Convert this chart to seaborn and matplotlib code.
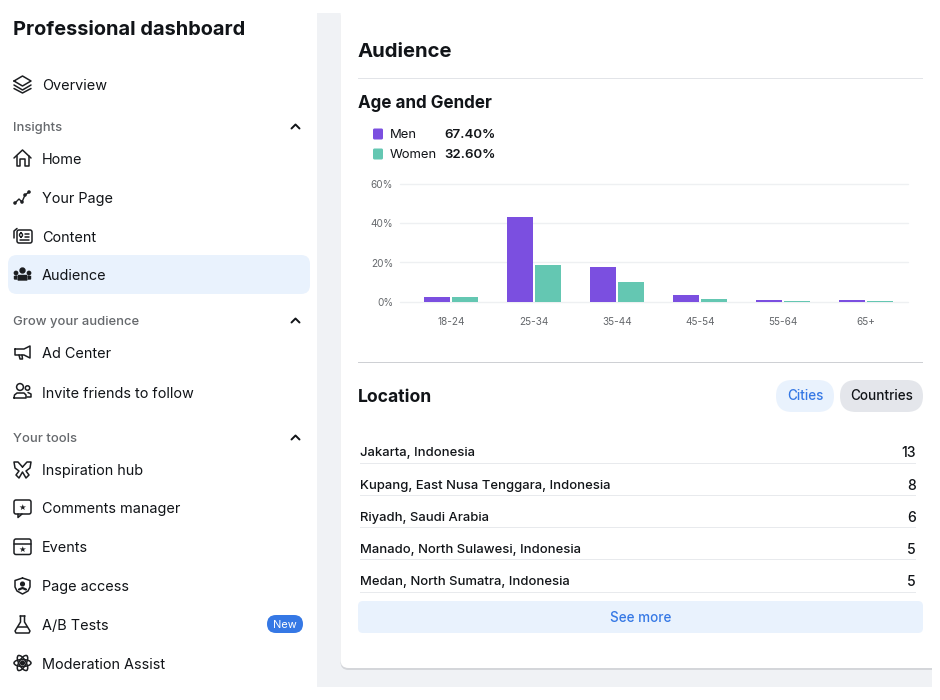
import matplotlib
matplotlib.use("Agg")
import matplotlib.pyplot as plt
from matplotlib.patches import FancyBboxPatch, Rectangle, Circle, Polygon, Ellipse
from matplotlib.transforms import ScaledTranslation
import pandas as pd
import seaborn as sns

age_groups = ["18-24", "25-34", "35-44", "45-54", "55-64", "65+"]
men_values = [2.5, 43.3, 17.4, 3.2, 0.8, 0.6]
women_values = [2.2, 18.9, 10.2, 1.5, 0.5, 0.5]
series_names = ["Men", "Women"]
series_totals = ["67.40%", "32.60%"]
y_ticks = [0, 20, 40, 60]
cities = ["Jakarta, Indonesia", "Kupang, East Nusa Tenggara, Indonesia", "Riyadh, Saudi Arabia",
          "Manado, North Sulawesi, Indonesia", "Medan, North Sumatra, Indonesia"]
city_counts = [13, 8, 6, 5, 5]
nav_items = ["Overview", "Home", "Your Page", "Content", "Audience", "Ad Center", "Invite friends to follow",
             "Inspiration hub", "Comments manager", "Events", "Page access", "A/B Tests", "Moderation Assist"]
nav_sections = ["Insights", "Grow your audience", "Your tools"]

W, H = 940, 700
sns.set_theme(style="white")
plt.rcParams["font.family"] = ["Inter", "DejaVu Sans"]
plt.rcParams["patch.edgecolor"] = "none"
PURPLE, TEAL = "#7B4FE0", "#64C7B2"
INK, GREY, BLUE, PALE = "#111418", "#65686C", "#3578E5", "#E9F2FD"

fig = plt.figure(figsize=(W / 100, H / 100), dpi=100, facecolor="white")
ui = fig.add_axes([0, 0, 1, 1], zorder=0)
ui.set_xlim(0, W); ui.set_ylim(H, 0); ui.axis("off")

def px(s):
    return s * 0.72

def box(x, y, w, h, r, color, z=1, **kw):
    ui.add_patch(FancyBboxPatch((x + r, y + r), w - 2 * r, h - 2 * r, boxstyle=f"round,pad={r}",
                                fc=color, ec="none", zorder=z, **kw))

def rule(x, y, w, color, h=1):
    ui.add_patch(Rectangle((x, y), w, h, fc=color, ec="none", zorder=4))

def text(x, y, s, size=15, color=INK, weight="normal", ha="left"):
    ui.text(x, y, s, fontsize=px(size), color=color, fontweight=weight, ha=ha, va="center_baseline", zorder=5)

# page background and card
ui.add_patch(Rectangle((317, 13), 615, 674, fc="#F0F2F5", ec="none", zorder=0))
box(340.5, 9, 620, 661, 8, "#D4D6DA", z=1)
box(340.5, 7, 620, 661, 8, "white", z=1)
ui.add_patch(Rectangle((932, 0), 8, H, fc="white", ec="none", zorder=3))
ui.add_patch(Rectangle((317, 0), 615, 13, fc="white", ec="none", zorder=3))

# sidebar
text(13, 28, "Professional dashboard", size=20, weight="bold")
nav_y = [84, 158, 197, 236, 275, 353, 392, 469, 508, 547, 586, 624, 663.5]
box(8, 255, 302, 39, 9, PALE)
for label, y in zip(nav_items, nav_y):
    text(42, y, label, size=14.45, color=INK)
for label, y in zip(nav_sections, [126, 320, 437]):
    text(13, y, label, size=13, color=GREY, weight="medium")
    ui.plot([291.5, 295.5, 299.5], [y + 2.5, y - 1.5, y + 2.5], color=INK, lw=1.4, zorder=5)
box(267, 615, 36, 18, 9, BLUE)
text(285, 624, "New", size=11, color="white", ha="center")

ICON = "#1C1E21"

def stroke(xs, ys, lw=1.1):
    ui.plot(xs, ys, color=ICON, lw=lw, solid_joinstyle="round", solid_capstyle="round", zorder=5)

def rect(x, y, w, h, lw=1.1):
    ui.add_patch(FancyBboxPatch((x + 2, y + 2), w - 4, h - 4, boxstyle="round,pad=2", fc="none",
                                ec=ICON, lw=lw, zorder=5))

def ring(x, y, r, fill=False, lw=1.1):
    ui.add_patch(Circle((x, y), r, fc=ICON if fill else "none", ec=ICON, lw=lw, zorder=5))

def star(x, y):
    ui.text(x, y, "★", fontsize=6, ha="center", va="center", color=ICON, zorder=5, family="DejaVu Sans")

# Overview
stroke([14, 22.5, 31, 22.5, 14], [81, 76, 81, 86, 81]); stroke([14, 22.5, 31], [85, 90, 85]); stroke([14, 22.5, 31], [88.5, 93, 88.5])
# Home
stroke([14, 22.5, 31], [158, 150, 158]); stroke([16.5, 16.5, 20, 20, 25, 25, 28.5, 28.5], [156, 166, 166, 159, 159, 166, 166, 156])
# Your Page
stroke([15, 19, 22, 25, 29], [203, 199, 202, 195, 192], 1)
for a, b in [(15, 203), (22, 202), (25, 195), (29, 192)]:
    ring(a, b, 1)
# Content
rect(17, 230, 15, 13); stroke([14, 14, 17], [238, 231, 228.5]); stroke([24.5, 29], [234, 234]); stroke([24.5, 29], [237, 237]); stroke([20, 29], [240, 240]); rect(19.5, 233, 3, 4, 1)
# Audience
ring(22.5, 270.5, 2.4, True); ring(16, 273, 1.6, True); ring(29, 273, 1.6, True)
ui.add_patch(Polygon([(18, 280), (18.5, 275.5), (26.5, 275.5), (27, 280)], fc=ICON, ec=ICON, lw=1, zorder=5))
ui.add_patch(Polygon([(14.5, 279), (14.5, 276.5), (17, 276), (16.5, 279)], fc=ICON, ec=ICON, lw=1, zorder=5))
ui.add_patch(Polygon([(30.5, 279), (30.5, 276.5), (28, 276), (28.5, 279)], fc=ICON, ec=ICON, lw=1, zorder=5))
# Ad Center
stroke([15, 24, 30, 30, 24, 15, 15], [349, 349, 346, 358, 355, 355, 349]); stroke([19, 20, 22.5, 22], [355, 359, 359, 355])
# Invite
ring(20, 387, 3.4); stroke([14, 14.5, 17, 24, 26, 26, 14], [398, 395, 393, 393, 395, 398, 398]); ring(27.5, 388, 2.2); stroke([28, 31, 31, 27], [392.5, 394, 397, 397])
# Inspiration (butterfly)
stroke([22.5, 18, 14, 15, 19, 16, 19, 22.5, 26, 29, 26, 30, 31, 27, 22.5], [467, 462, 462, 468, 471, 475, 478, 472, 478, 475, 471, 468, 462, 462, 467])
# Comments
rect(14, 500, 17, 14); stroke([18, 18, 22], [514, 517.5, 514]); star(22.5, 507)
# Events
rect(14, 539, 17, 15.5); stroke([14, 31], [544, 544]); star(22.5, 549.5)
# Page access
stroke([22.5, 15, 15, 17, 22.5, 28, 30, 30, 22.5], [578, 580.5, 587, 591, 594, 591, 587, 580.5, 578]); ring(22.5, 584, 1.8, True); stroke([19, 22.5, 26], [589.5, 588, 589.5], 1.6)
# A/B Tests
stroke([20, 25], [616, 616]); stroke([20.5, 20.5, 15, 16, 29, 30, 24.5, 24.5], [616, 622, 631, 633, 633, 631, 622, 616]); stroke([18, 27], [627, 627])
# Moderation
ring(22.5, 663, 1.8, True)
for a in (0, 60, 120):
    ui.add_patch(Ellipse((22.5, 663), 17, 7, angle=a, fc="none", ec=ICON, lw=1.1, zorder=5))

# audience header and rules
text(358, 50, "Audience", size=20.3, weight="bold")
rule(358, 77.5, 565, "#E2E4E8")
text(358, 102, "Age and Gender", size=17, weight="bold")
rule(358, 362, 565, "#CED0D4")

# legend
for name, total, color, y in zip(series_names, series_totals, [PURPLE, TEAL], [134, 154]):
    box(373, y - 5.5, 10, 11, 1.5, color)
    text(390, y, name, size=13)
    text(496, y, total, size=13.3, weight="semibold", ha="right")

# bar chart
L, R, T, B = 400, 908, 184.2, 301.5
ax = fig.add_axes([L / W, 1 - B / H, (R - L) / W, (B - T) / H], zorder=2)
ax.patch.set_alpha(0)
df = pd.DataFrame({"age": age_groups * 2, "share": men_values + women_values,
                   "sex": [series_names[0]] * 6 + [series_names[1]] * 6})
sns.barplot(data=df, x="age", y="share", hue="sex", order=age_groups, palette=[PURPLE, TEAL],
            width=0.675, gap=0.05, legend=False, saturation=1, linewidth=0, ax=ax)
ax.set_xlim((L - 451) / 83, (R - 451) / 83)
ax.set_ylim(0, 60)
ax.set_yticks(y_ticks, [f"{v}%" for v in y_ticks])
ax.tick_params(axis="both", length=0, labelsize=px(10), labelcolor="#65686C")
ax.tick_params(axis="x", pad=11.5)
ax.tick_params(axis="y", pad=5)
ax.set_xlabel(""); ax.set_ylabel("")
ax.grid(axis="y", color="#EEF0F2", lw=1, clip_on=False)
ax.set_axisbelow(True)
for sp in ax.spines.values():
    sp.set_visible(False)
shift = ScaledTranslation(0, -1.2 / 100, fig.dpi_scale_trans)
for lab in ax.get_yticklabels():
    lab.set_va("center")
    lab.set_transform(lab.get_transform() + shift)

# location
text(358, 396, "Location", size=17.5, weight="bold")
box(776, 380, 58, 32, 16, PALE)
text(805, 395, "Cities", size=13.5, color=BLUE, weight="medium", ha="center")
box(840, 380, 83, 32, 16, "#E4E6EB")
text(881.5, 395, "Countries", size=13.5, weight="medium", ha="center")
row_y = [451.5, 484, 516, 548, 580.5]
for city, count, y in zip(cities, city_counts, row_y):
    text(360, y, city, size=13.05, weight="medium")
    text(916, y, str(count), size=14, weight="medium", ha="right")
    rule(360, y + 11, 556, "#E8EAED")
box(358, 601, 565, 32, 5, PALE)
text(640.5, 617, "See more", size=13.5, color=BLUE, weight="medium", ha="center")

fig.savefig("out.png", dpi=100, facecolor="white")
